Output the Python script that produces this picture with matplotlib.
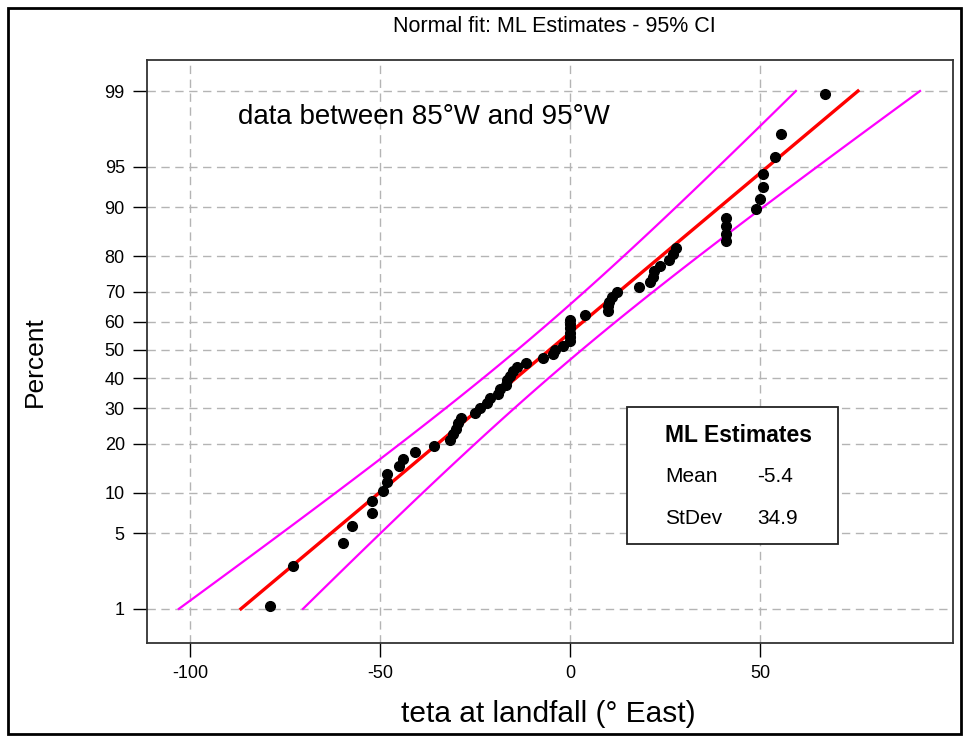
import numpy as np
import matplotlib.pyplot as plt
from matplotlib.patches import Rectangle
from statistics import NormalDist

# teta at landfall (deg East), sorted
teta = [-78.9, -73.0, -59.7, -57.3, -52.1, -52.1, -49.1, -48.2, -48.1, -44.9,
        -43.9, -40.8, -35.7, -31.5, -30.7, -30.0, -29.4, -28.8, -25.0, -23.7,
        -21.8, -21.1, -19.0, -18.4, -16.8, -16.5, -15.8, -14.9, -13.9, -11.6,
        -7.0, -4.4, -3.9, -1.8, 0.0, 0.0, 0.0, 0.0, 0.0, 0.0,
        3.9, 10.1, 10.1, 10.3, 11.0, 12.5, 18.2, 21.0, 21.8, 22.1,
        23.7, 26.0, 27.2, 27.9, 41.0, 41.0, 41.0, 41.0, 48.9, 50.0,
        50.7, 50.9, 53.9, 55.6, 67.1]

MEAN = -5.4
STDEV = 34.9
pct_ticks = [1, 5, 10, 20, 30, 40, 50, 60, 70, 80, 90, 95, 99]
x_ticks = [-100, -50, 0, 50]

nd = NormalDist()
def z_of(p):
    return nd.inv_cdf(p / 100.0)

n = len(teta)
ranks = np.arange(1, n + 1)
pos = (ranks - 0.3) / (n + 0.4) * 100  # median ranks
z_pts = [z_of(p) for p in pos]

# fitted line and 95% CI on percentiles
z_line = np.linspace(z_of(1), z_of(99), 100)
x_fit = MEAN + STDEV * z_line
half = 1.96 * STDEV * np.sqrt(1.0 / n + z_line ** 2 / (2.0 * n))

plt.rcParams['font.family'] = ['Liberation Sans', 'DejaVu Sans']
fig = plt.figure(figsize=(9.64, 7.38), dpi=100)

fig.patches.append(Rectangle((8 / 964, 4 / 738), 953 / 964, 726 / 738,
                             transform=fig.transFigure, fill=False,
                             edgecolor='black', linewidth=2))

ax = fig.add_axes([147 / 964, 1 - 643 / 738, 806 / 964, 583 / 738])

ax.plot(x_fit - half, z_line, color='#FF00FF', linewidth=1.6, zorder=3)
ax.plot(x_fit + half, z_line, color='#FF00FF', linewidth=1.6, zorder=3)
ax.plot(x_fit, z_line, color='#FF0000', linewidth=2.4, zorder=4)
ax.plot(teta, z_pts, 'o', color='black', markersize=7, zorder=5)

ax.set_xlim(-111.3, 100.8)
ax.set_ylim(-2.633, 2.605)
ax.set_xticks(x_ticks)
ax.set_xticklabels([str(v) for v in x_ticks])
ax.set_yticks([z_of(p) for p in pct_ticks])
ax.set_yticklabels([str(p) for p in pct_ticks])
ax.tick_params(axis='both', length=10, width=1, labelsize=13, pad=6)
ax.grid(True, color='#B4B4B4', linestyle=(0, (6, 4)), linewidth=1)
ax.set_axisbelow(True)
for s in ax.spines.values():
    s.set_linewidth(1.3)
    s.set_color('#333333')

fig.text(548 / 964, 1 - 714 / 738, 'teta at landfall (° East)', fontsize=21.5,
         ha='center', va='center')
fig.text(35 / 964, 1 - 362 / 738, 'Percent', fontsize=19, rotation=90,
         ha='center', va='center')
fig.text(554 / 964, 1 - 27 / 738, 'Normal fit: ML Estimates - 95% CI',
         ha='center', va='center', fontsize=15.5)

fig.text(238 / 964, 1 - 117 / 738, 'data between 85°W and 95°W',
         fontsize=20, va='center', ha='left')

# ML estimates box
box = Rectangle((627 / 964, 1 - 544 / 738), 211 / 964, 137 / 738,
                transform=fig.transFigure, facecolor='white',
                edgecolor='#222222', linewidth=1.3, zorder=6)
fig.patches.append(box)
fig.text(665 / 964, 1 - 436 / 738, 'ML Estimates', fontsize=16.5,
         fontweight='bold', va='center', zorder=7)
fig.text(665 / 964, 1 - 477 / 738, 'Mean', fontsize=15, va='center', zorder=7)
fig.text(757 / 964, 1 - 477 / 738, f'{MEAN}', fontsize=15, va='center', zorder=7)
fig.text(665 / 964, 1 - 518 / 738, 'StDev', fontsize=15, va='center', zorder=7)
fig.text(757 / 964, 1 - 518 / 738, f'{STDEV}', fontsize=15, va='center', zorder=7)

fig.savefig('out.png', dpi=100)
